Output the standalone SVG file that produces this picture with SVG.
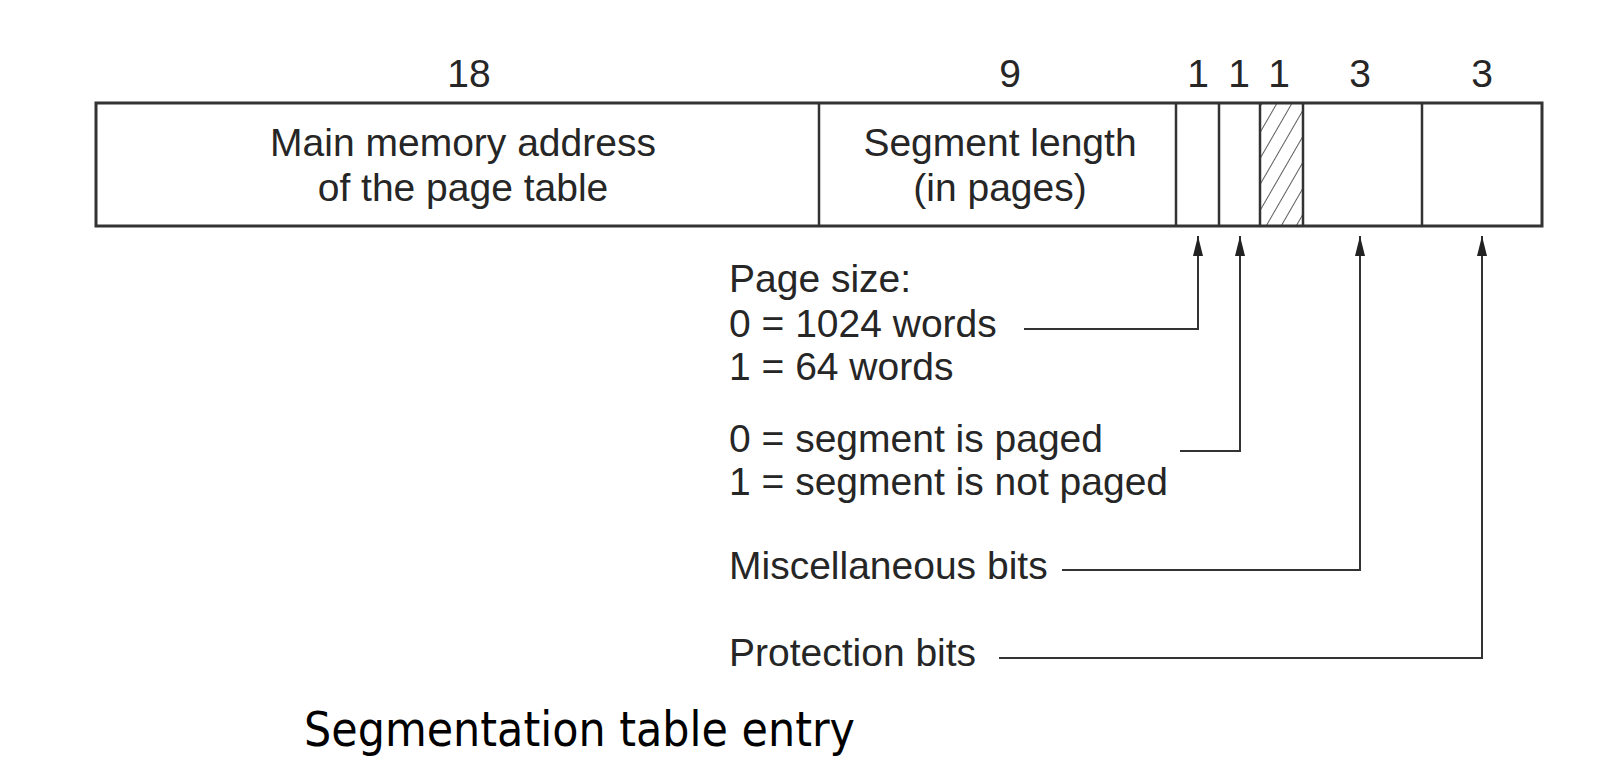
<svg xmlns="http://www.w3.org/2000/svg" width="1606" height="778" viewBox="0 0 1606 778">
  <style>
    .lbl { font-family: "Liberation Sans", Arial, sans-serif; font-size: 39px; fill: #262626; }
    .mid { text-anchor: middle; }
    .cell { fill: #fff; stroke: #333; stroke-width: 3; }
    .div { stroke: #333; stroke-width: 2.5; }
    .wire { fill: none; stroke: #333; stroke-width: 2; }
    .cap { font-family: "DejaVu Sans", Verdana, sans-serif; font-size: 48px; fill: #000; }
  </style>
  <defs>
    <marker id="arrow" viewBox="0 0 20 10" refX="20" refY="5" markerWidth="20" markerHeight="10" markerUnits="userSpaceOnUse" orient="auto">
      <path d="M0,0 L20,5 L0,10 Z" fill="#222"/>
    </marker>
    <pattern id="hatch" patternUnits="userSpaceOnUse" width="13" height="13" patternTransform="rotate(30)">
      <line x1="0" y1="0" x2="0" y2="13" stroke="#333" stroke-width="1.6"/>
    </pattern>
  </defs>
  <rect width="1606" height="778" fill="#fff"/>

  <!-- bit widths above the fields -->
  <g id="widths" class="lbl mid">
    <text x="469" y="87">18</text>
    <text x="1010" y="87">9</text>
    <text x="1198" y="87">1</text>
    <text x="1239" y="87">1</text>
    <text x="1279" y="87">1</text>
    <text x="1360" y="87">3</text>
    <text x="1482" y="87">3</text>
  </g>

  <!-- the entry and its fields -->
  <g id="entry">
    <rect class="cell" x="96" y="103" width="1446" height="123"/>
    <rect x="1260" y="104" width="43" height="121" fill="url(#hatch)"/>
    <line class="div" x1="819" y1="103" x2="819" y2="226"/>
    <line class="div" x1="1176" y1="103" x2="1176" y2="226"/>
    <line class="div" x1="1219" y1="103" x2="1219" y2="226"/>
    <line class="div" x1="1260" y1="103" x2="1260" y2="226"/>
    <line class="div" x1="1303" y1="103" x2="1303" y2="226"/>
    <line class="div" x1="1422" y1="103" x2="1422" y2="226"/>
  </g>

  <g id="field-address" class="lbl mid">
    <text x="463" y="156">Main memory address</text>
    <text x="463" y="201">of the page table</text>
  </g>
  <g id="field-length" class="lbl mid">
    <text x="1000" y="156">Segment length</text>
    <text x="1000" y="201">(in pages)</text>
  </g>

  <!-- explanations of the one-bit and three-bit fields -->
  <g id="note-pagesize" class="lbl">
    <text x="729" y="292">Page size:</text>
    <text x="729" y="337">0 = 1024 words</text>
    <text x="729" y="380">1 = 64 words</text>
  </g>
  <g id="note-paged" class="lbl">
    <text x="729" y="452">0 = segment is paged</text>
    <text x="729" y="495">1 = segment is not paged</text>
  </g>
  <g id="note-misc" class="lbl">
    <text x="729" y="579">Miscellaneous bits</text>
  </g>
  <g id="note-protection" class="lbl">
    <text x="729" y="666">Protection bits</text>
  </g>

  <g id="connectors" class="wire">
    <polyline points="1024,329 1198,329 1198,236" marker-end="url(#arrow)"/>
    <polyline points="1180,451 1240,451 1240,236" marker-end="url(#arrow)"/>
    <polyline points="1062,570 1360,570 1360,236" marker-end="url(#arrow)"/>
    <polyline points="999,658 1482,658 1482,236" marker-end="url(#arrow)"/>
  </g>

  <text id="caption" class="cap" x="304" y="746" textLength="551" lengthAdjust="spacingAndGlyphs">Segmentation table entry</text>
</svg>
